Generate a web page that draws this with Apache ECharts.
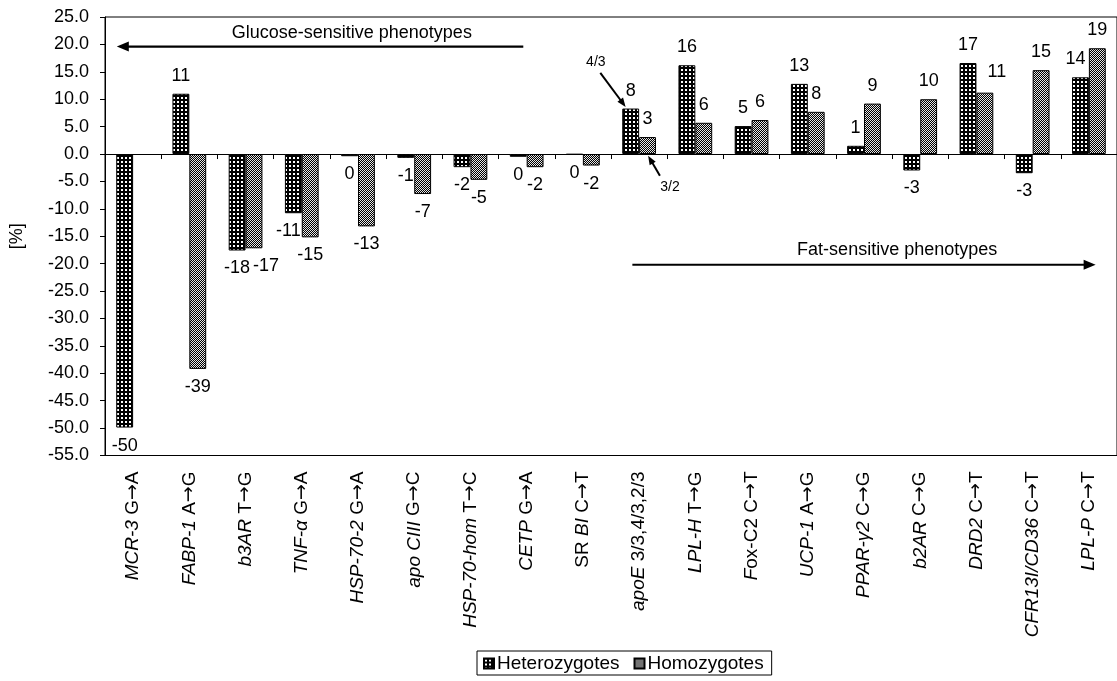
<!DOCTYPE html>
<html><head><meta charset="utf-8">
<script src="https://cdn.jsdelivr.net/npm/echarts@6/dist/echarts.min.js"></script>
<style>html,body{margin:0;padding:0;background:#fff}#c{width:1117px;height:681px}</style>
</head><body><div id="c"></div>
<script>
// ---- data ----
const categories = ['{i|MCR-3} G→A', '{i|FABP-1} A→G', '{i|b3AR} T→G', '{i|TNF-α} G→A', '{i|HSP-70-2} G→A',
  '{i|apo CIII} G→C', '{i|HSP-70-hom} T→C', '{i|CETP} G→A', 'SR {i|BI} C→T', '{i|apoE} 3/3,4/3,2/3',
  '{i|LPL-H} T→G', '{i|F}ox-C2 C→T', '{i|UCP-1} A→G', '{i|PPAR-γ2} C→G', '{i|b2AR} C→G',
  '{i|DRD2} C→T', '{i|CFR13I/CD36} C→T', '{i|LPL-P} C→T'];
const heteroValues = [-49.9, 11.0, -17.6, -10.8, -0.4, -0.7, -2.4, -0.5, -0.1, 8.3, 16.2, 5.1, 12.8, 1.5, -3.0, 16.6, -3.5, 14.0];
const homoValues   = [null, -39.2, -17.2, -15.2, -13.2, -7.3, -4.7, -2.4, -2.1, 3.1, 5.7, 6.2, 7.7, 9.2, 10.0, 11.2, 15.3, 19.3];
const heteroLabels = ['-50','11','-18','-11','0','-1','-2','0','0','8','16','5','13','1','-3','17','-3','14'];
const homoLabels   = ['','-39','-17','-15','-13','-7','-5','-2','-2','3','6','6','8','9','10','11','15','19'];
const seriesNames = ['Heterozygotes', 'Homozygotes'];
const yMin = -55, yMax = 25, yStep = 5;

// label nudges (styling only): [seriesIndex, categoryIndex, dx, dy]
const labelNudges = [[1, 2, 12, 0], [0, 3, -5, 0], [1, 15, 12, -3], [0, 17, -5, 0]];

// annotations (category index, value)
const annotTexts = [
  {text: 'Glucose-sensitive phenotypes', x: 3.89, y: 22.1, size: 18},
  {text: 'Fat-sensitive phenotypes', x: 13.59, y: -17.5, size: 18},
  {text: '4/3', x: 8.23, y: 16.8, size: 14},
  {text: '3/2', x: 9.55, y: -6.1, size: 14}
];
const annotArrows = [
  {from: [6.94, 19.6], to: [-0.29, 19.6], big: true},
  {from: [8.88, -20.2], to: [17.12, -20.2], big: true},
  {from: [8.31, 14.8], to: [8.76, 8.6], big: false},
  {from: [9.37, -3.96], to: [9.16, -0.3], big: false}
];

// ---- patterns ----
function makePattern(kind) {
  const c = document.createElement('canvas');
  c.width = 4; c.height = 4;
  const g = c.getContext('2d');
  g.fillStyle = '#000'; g.fillRect(0, 0, 4, 4);
  g.fillStyle = '#fff';
  if (kind === 'het') {
    g.fillRect(1, 1, 2, 2);
  } else {
    for (let y = 0; y < 4; y++) for (let x = 0; x < 4; x++) {
      if ((x + y) % 2 === 0) { g.fillStyle = '#e6e6e6'; g.fillRect(x, y, 1, 1); }
    }
  }
  return {image: c, repeat: 'repeat'};
}
const hetPat = makePattern('het');
const homPat = makePattern('hom');

const FONT = 'Liberation Sans, Arial, sans-serif';
const FS = 18;

function buildData(vals, labs, si) {
  return vals.map((v, i) => {
    if (v === null) return '-';
    const lab = {position: v >= 0 ? 'top' : 'bottom', formatter: labs[i]};
    labelNudges.forEach(n => { if (n[0] === si && n[1] === i) lab.offset = [n[2], n[3]]; });
    return {value: v, label: lab};
  });
}

const chart = echarts.init(document.getElementById('c'), null, {renderer: 'canvas'});
const option = {
  animation: false,
  backgroundColor: '#fff',
  textStyle: {fontFamily: FONT, color: '#000'},
  grid: {left: 105, top: 17, width: 1017, height: 438.5, show: true, borderColor: '#000', borderWidth: 1, containLabel: false},
  legend: {
    data: seriesNames, left: 477, top: 651, orient: 'horizontal',
    icon: 'rect', itemWidth: 10, itemHeight: 10, itemGap: 14,
    borderColor: '#000', borderWidth: 1, padding: [3, 8, 2, 6],
    textStyle: {fontFamily: FONT, fontSize: 19, color: '#000', padding: [0, 0, 0, -2]}
  },
  xAxis: [
    {type: 'category', data: categories, position: 'bottom', axisLine: {onZero: true, lineStyle: {color: '#000', width: 1}},
      axisTick: {show: true, interval: 0, length: 5, lineStyle: {color: '#000'}}, axisLabel: {show: false}, splitLine: {show: false}},
    {type: 'category', data: categories, position: 'bottom', axisLine: {show: false, onZero: false}, axisTick: {show: false},
      axisLabel: {show: true, interval: 0, rotate: 90, margin: 16, fontFamily: FONT, fontSize: 19, color: '#000',
        formatter: v => v.replace(/→/g, '{a|→}'),
        rich: {i: {fontStyle: 'italic', fontFamily: FONT, fontSize: 19, color: '#000'},
               a: {fontFamily: 'DejaVu Sans', fontSize: 19, color: '#000'}}}}
  ],
  yAxis: {
    type: 'value', min: yMin, max: yMax, interval: yStep,
    name: '[%]', nameLocation: 'middle', nameGap: 79, nameRotate: 90,
    nameTextStyle: {fontFamily: FONT, fontSize: FS, color: '#000'},
    axisLine: {show: true, lineStyle: {color: '#000'}},
    axisTick: {show: true, length: 5, lineStyle: {color: '#000'}},
    axisLabel: {formatter: v => v.toFixed(1), fontFamily: FONT, fontSize: FS, color: '#000', margin: 16},
    splitLine: {show: false}
  },
  series: [
    {name: seriesNames[0], type: 'bar', xAxisIndex: 0, barGap: '0%', barCategoryGap: '40%',
      data: buildData(heteroValues, heteroLabels, 0),
      itemStyle: {color: hetPat, borderColor: '#000', borderWidth: 1},
      label: {show: true, distance: 9, fontFamily: FONT, fontSize: FS, color: '#000'}},
    {name: seriesNames[1], type: 'bar', xAxisIndex: 0, barGap: '0%', barCategoryGap: '40%',
      data: buildData(homoValues, homoLabels, 1),
      itemStyle: {color: homPat, borderColor: '#000', borderWidth: 1},
      label: {show: true, distance: 9, fontFamily: FONT, fontSize: FS, color: '#000'}}
  ]
};
chart.setOption(option);

function toPx(idx, val) {
  const a = chart.convertToPixel({gridIndex: 0}, [0, val]);
  const b = chart.convertToPixel({gridIndex: 0}, [1, val]);
  return [a[0] + idx * (b[0] - a[0]), a[1]];
}
function arrowEls(p0, p1, lw, hl, hw) {
  const dx = p1[0] - p0[0], dy = p1[1] - p0[1], L = Math.hypot(dx, dy);
  const ux = dx / L, uy = dy / L;
  const bx = p1[0] - ux * hl, by = p1[1] - uy * hl;
  const px = -uy * hw / 2, py = ux * hw / 2;
  return [
    {type: 'line', silent: true, shape: {x1: p0[0], y1: p0[1], x2: bx + ux, y2: by + uy}, style: {stroke: '#000', lineWidth: lw}},
    {type: 'polygon', silent: true, shape: {points: [[p1[0], p1[1]], [bx + px, by + py], [bx - px, by - py]]}, style: {fill: '#000'}}
  ];
}
const els = [];
annotTexts.forEach(t => {
  const p = toPx(t.x, t.y);
  els.push({type: 'text', silent: true, x: p[0], y: p[1],
    style: {text: t.text, fill: '#000', font: t.size + 'px ' + FONT, textAlign: 'center', textVerticalAlign: 'middle'}});
});
annotArrows.forEach(a => {
  const p0 = toPx(a.from[0], a.from[1]), p1 = toPx(a.to[0], a.to[1]);
  if (a.big) els.push(...arrowEls(p0, p1, 2.2, 12, 10));
  else els.push(...arrowEls(p0, p1, 2, 9, 7));
});
chart.setOption({graphic: {elements: els}});
</script></body></html>
